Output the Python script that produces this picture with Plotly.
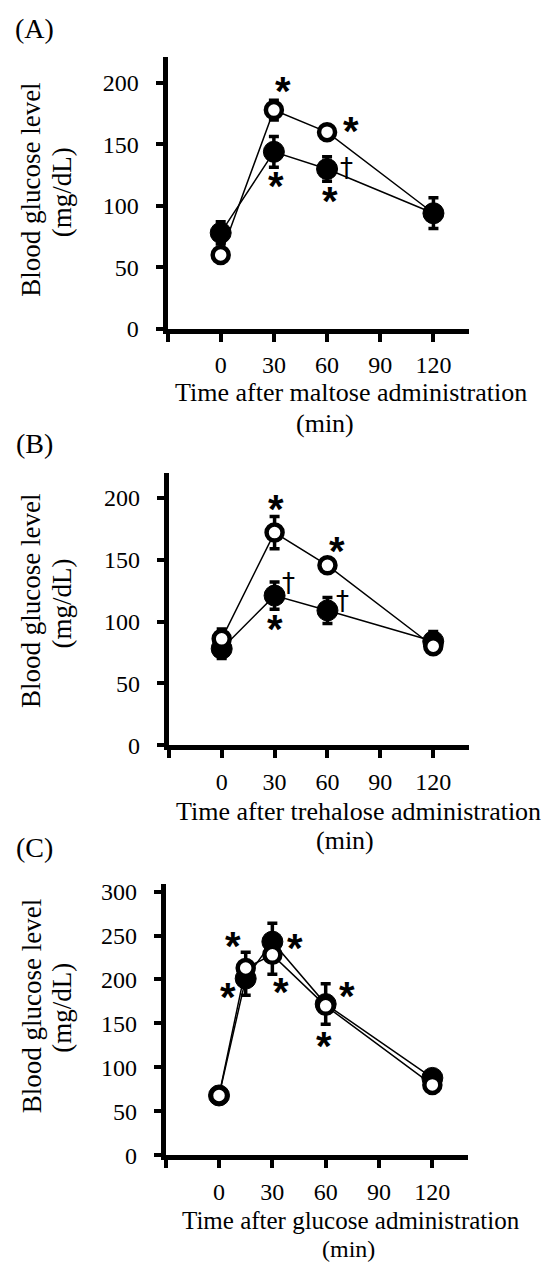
import plotly.graph_objects as go

W, H = 550, 1275

# ---------------- data ----------------
panel_labels = ["(A)", "(B)", "(C)"]
x_titles = ["Time after maltose administration",
            "Time after trehalose administration",
            "Time after glucose administration"]
x_unit = "(min)"
y_title = "Blood glucose level"
y_unit = "(mg/dL)"

x_tickvals = [-30, 0, 30, 60, 90, 120]
x_ticktext = ["", "0", "30", "60", "90", "120"]
yA_ticks = [0, 50, 100, 150, 200]
yB_ticks = [0, 50, 100, 150, 200]
yC_ticks = [0, 50, 100, 150, 200, 250, 300]

# Panel A (maltose)
tA = [0, 30, 60, 120]
A_open = [60, 178, 160, 94]
A_open_err = [3, 8, 3, 6]
A_fill = [78, 144, 130, 94]
A_fill_err = [9, 12.5, 10, 12.5]

# Panel B (trehalose)
tB = [0, 30, 60, 120]
B_open = [86, 172, 145.5, 80]
B_open_err = [8, 13, 3, 4]
B_fill = [78, 121, 109, 84]
B_fill_err = [8, 11, 10.5, 8]

# Panel C (glucose)
tC = [0, 15, 30, 60, 120]
C_open = [68, 213, 228, 170, 80]
C_open_err = [3, 18, 22, 8, 3]
C_fill = [68, 201, 243, 172, 88]
C_fill_err = [3, 19, 21, 23, 4]

# significance marks: (text, x, y)
A_marks = [("*", 35.4, 197), ("*", 73.3, 164.5), ("*", 31, 119.5), ("†", 71, 131), ("*", 61.4, 107)]
B_marks = [("*", 31, 194.7), ("*", 65.6, 160.7), ("†", 38, 131.4), ("*", 30.2, 97.6), ("†", 68.4, 117)]
C_marks = [("*", 8, 242.4), ("*", 5.2, 185), ("*", 42.7, 240), ("*", 34.9, 190.7), ("*", 71.8, 186), ("*", 59.2, 129)]

# ---------------- layout geometry (pixels) ----------------
panels = [
    dict(x0=167.5, x1=468.9, ytop=53, ybot=328.3, yr=[0, 221], yt=yA_ticks,
         lab=(34, 24), xt1=(351, 393), xt2=(325, 425), fs1=26, fs2=26,
         yt1=(31.5, 188), yt2=(62, 190)),
    dict(x0=168.8, x1=468.5, ytop=475, ybot=750.7, yr=[0, 220], yt=yB_ticks,
         lab=(34, 445), xt1=(358, 818), xt2=(345, 847), fs1=26, fs2=26,
         yt1=(31.5, 605), yt2=(62, 607)),
    dict(x0=165.7, x1=467.9, ytop=891.7, ybot=1166.7, yr=[0, 308.5], yt=yC_ticks,
         lab=(34, 855), xt1=(351, 1233), xt2=(348, 1262), fs1=25, fs2=24,
         yt1=(31.5, 1016), yt2=(62, 1017)),
]

series = [
    (tA, A_open, A_open_err, A_fill, A_fill_err, A_marks, False),
    (tB, B_open, B_open_err, B_fill, B_fill_err, B_marks, True),
    (tC, C_open, C_open_err, C_fill, C_fill_err, C_marks, True),
]

SERIF = "Liberation Serif"
fig = go.Figure()
annotations = []
layout = dict(width=W, height=H, margin=dict(l=0, r=0, t=0, b=0),
              paper_bgcolor="white", plot_bgcolor="white", showlegend=False)


def px_x(p):
    return p / W


def px_y(p):
    return 1 - p / H


for i, (pan, ser) in enumerate(zip(panels, series)):
    n = "" if i == 0 else str(i + 1)
    xa, ya = "x" + n, "y" + n
    t, o, oe, f, fe, marks, open_on_top = ser

    tr_open = go.Scatter(x=t, y=o, xaxis=xa, yaxis=ya, mode="lines+markers",
                         line=dict(color="black", width=1.5),
                         marker=dict(symbol="circle", size=16, color="white",
                                     line=dict(color="black", width=4.5)),
                         error_y=dict(type="data", array=oe, visible=True,
                                      color="black", thickness=3.5, width=5),
                         cliponaxis=False)
    tr_fill = go.Scatter(x=t, y=f, xaxis=xa, yaxis=ya, mode="lines+markers",
                         line=dict(color="black", width=1.5),
                         marker=dict(symbol="circle", size=21, color="black",
                                     line=dict(color="black", width=1)),
                         error_y=dict(type="data", array=fe, visible=True,
                                      color="black", thickness=3.5, width=5),
                         cliponaxis=False)
    if open_on_top:
        fig.add_trace(tr_fill)
        fig.add_trace(tr_open)
    else:
        fig.add_trace(tr_open)
        fig.add_trace(tr_fill)

    layout["xaxis" + n] = dict(
        domain=[px_x(pan["x0"]), px_x(pan["x1"])], anchor=ya, range=[-30, 140],
        tickvals=x_tickvals, ticktext=x_ticktext, ticks="outside", ticklen=8,
        tickwidth=3.5, tickcolor="black", showline=True, linewidth=5, linecolor="black",
        showgrid=False, zeroline=False, ticklabelstandoff=3,
        tickfont=dict(family=SERIF, size=24, color="black"))
    layout["yaxis" + n] = dict(
        domain=[px_y(pan["ybot"]), px_y(pan["ytop"])], anchor=xa, range=pan["yr"],
        tickvals=pan["yt"], ticks="outside", ticklen=7, tickwidth=3.5, tickcolor="black",
        showline=True, linewidth=5, linecolor="black", showgrid=False, zeroline=False,
        ticklabelstandoff=12,
        tickfont=dict(family=SERIF, size=24, color="black"))

    for (txt, mx, my) in marks:
        if txt == "*":
            annotations.append(dict(x=mx, y=my, xref=xa, yref=ya, text="<b>*</b>",
                                    showarrow=False, yshift=-4,
                                    font=dict(family="Liberation Sans", size=40, color="black")))
        else:
            annotations.append(dict(x=mx, y=my, xref=xa, yref=ya, text=txt,
                                    showarrow=False, yshift=0,
                                    font=dict(family="DejaVu Sans", size=26, color="black")))

    def txt_ann(text, pos, size, angle=0):
        annotations.append(dict(x=px_x(pos[0]), y=px_y(pos[1]), xref="paper", yref="paper",
                                text=text, showarrow=False, textangle=angle,
                                xanchor="center", yanchor="middle",
                                font=dict(family=SERIF, size=size, color="black")))

    txt_ann(panel_labels[i], pan["lab"], 28)
    txt_ann(x_titles[i], pan["xt1"], pan["fs1"])
    txt_ann(x_unit, pan["xt2"], pan["fs2"])
    txt_ann(y_title, pan["yt1"], 27, -90)
    txt_ann(y_unit, pan["yt2"], 27, -90)

layout["annotations"] = annotations
fig.update_layout(**layout)
fig.write_html("out.html")
